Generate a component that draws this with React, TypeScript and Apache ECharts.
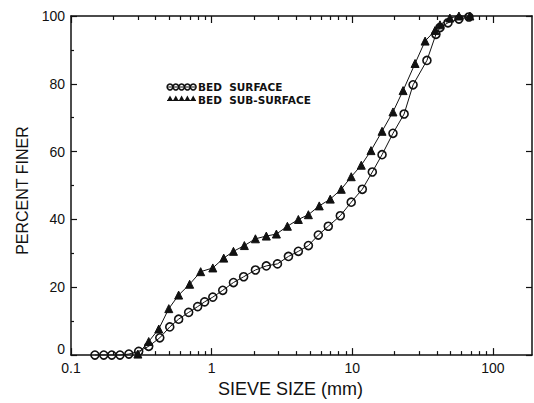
import React, { useEffect, useRef } from "react";
import * as echarts from "echarts";

const surfaceSize = [0.148, 0.171, 0.195, 0.223, 0.258, 0.303, 0.357, 0.428, 0.504, 0.583, 0.687, 0.796, 0.892, 1.02, 1.2, 1.43, 1.69, 2.05, 2.45, 2.94, 3.52, 4.14, 4.88, 5.74, 6.76, 8.23, 9.84, 11.8, 13.9, 16.3, 19.5, 23.4, 27.1, 34.0, 39.4, 42.1, 48.0, 57.4, 67.6];
const surfaceFiner = [0, 0, 0, 0, 0.3, 1.1, 2.6, 5.1, 8.3, 10.6, 12.6, 14.3, 15.7, 17.1, 19.1, 21.4, 23.1, 25.1, 26.3, 26.9, 29.1, 30.6, 32.3, 35.4, 38.0, 41.1, 45.1, 48.9, 54.0, 59.1, 65.4, 71.1, 79.7, 86.9, 94.6, 96.6, 98.0, 99.1, 99.7];

const subSize = [0.299, 0.357, 0.421, 0.496, 0.583, 0.698, 0.836, 1.02, 1.22, 1.43, 1.71, 2.05, 2.45, 2.89, 3.46, 4.14, 4.88, 5.83, 6.98, 8.36, 9.84, 11.6, 13.6, 16.3, 19.5, 23.0, 28.0, 33.0, 38.8, 42.1, 49.5, 57.4, 68.7];
const subFiner = [0.3, 4.0, 7.7, 13.7, 17.7, 20.9, 24.6, 25.7, 28.6, 30.6, 32.3, 34.3, 35.1, 35.7, 38.0, 40.0, 41.4, 44.0, 46.0, 48.9, 52.6, 56.0, 60.3, 66.0, 71.7, 78.0, 86.0, 92.6, 95.7, 97.4, 99.4, 100, 100];

const xMajor = [0.1, 1, 10, 100];
const xMinor = [0.2, 0.3, 0.4, 0.5, 0.6, 0.7, 0.8, 0.9, 2, 3, 4, 5, 6, 7, 8, 9, 20, 30, 40, 50, 60, 70, 80, 90];
const xLabels = ["0.1", "1", "10", "100"];

const legendNames = ["BED  SURFACE", "BED  SUB-SURFACE"];

const FONT = "Liberation Sans";
const LFONT = "DejaVu Sans";

export default function App() {
  const ref = useRef<HTMLDivElement>(null);
  useEffect(() => {
    if (!ref.current) return;
    const chart = echarts.init(ref.current, null, { renderer: "svg" });
    const black = "#111";
    const baseX = {
      type: "log" as const,
      logBase: 10,
      min: 0.1,
      max: 190,
      splitLine: { show: false },
    };
    const legendSyms: any[] = [];
    for (let i = 0; i < 5; i++) {
      legendSyms.push({
        type: "circle",
        shape: { cx: 170 + i * 5.8, cy: 87, r: 2.9 },
        style: { fill: "none", stroke: black, lineWidth: 1.5 },
      });
      legendSyms.push({
        type: "polygon",
        shape: {
          points: [
            [167 + i * 5.8, 101],
            [173 + i * 5.8, 101],
            [170 + i * 5.8, 95.5],
          ],
        },
        style: { fill: black },
      });
    }
    legendSyms.push({ type: "line", shape: { x1: 167, y1: 87, x2: 196, y2: 87 }, style: { stroke: black, lineWidth: 1 } });
    legendSyms.push({ type: "line", shape: { x1: 167, y1: 100.5, x2: 196, y2: 100.5 }, style: { stroke: black, lineWidth: 1 } });
    legendSyms.push({
      type: "text",
      x: 198,
      y: 86.5,
      style: { text: legendNames[0], font: `bold 10.5px '${LFONT}'`, fill: black, verticalAlign: "middle", lineHeight: 11 },
    });
    legendSyms.push({
      type: "text",
      x: 198,
      y: 99.5,
      style: { text: legendNames[1], font: `bold 10.5px '${LFONT}'`, fill: black, verticalAlign: "middle", lineHeight: 11 },
    });

    chart.setOption({
      animation: false,
      backgroundColor: "#fff",
      grid: { left: 71, right: 2, top: 16, bottom: 37 },
      xAxis: [
        {
          ...baseX,
          position: "bottom",
          name: "SIEVE SIZE (mm)",
          nameLocation: "middle",
          nameGap: 15,
          nameTextStyle: { fontFamily: FONT, fontSize: 18, color: black, padding: [0, 22, 0, 0] },
          axisLine: { show: true, lineStyle: { color: black, width: 1.5 } },
          axisTick: { show: true, inside: true, length: 7, customValues: xMajor, lineStyle: { color: black, width: 1.2 } },
          axisLabel: {
            show: true,
            customValues: xMajor,
            formatter: (v: number) => xLabels[xMajor.findIndex((m) => Math.abs(m - v) / m < 1e-6)] ?? "",
            fontFamily: FONT,
            fontSize: 14,
            color: black,
            margin: 6,
          },
        },
        {
          ...baseX,
          position: "bottom",
          axisLine: { show: false },
          axisTick: { show: true, inside: true, length: 4, customValues: xMinor, lineStyle: { color: black, width: 1.2 } },
          axisLabel: { show: false },
        },
        {
          ...baseX,
          position: "top",
          axisLine: { show: true, lineStyle: { color: black, width: 1.5 } },
          axisTick: { show: true, inside: true, length: 7, customValues: xMajor, lineStyle: { color: black, width: 1.2 } },
          axisLabel: { show: false },
        },
        {
          ...baseX,
          position: "top",
          axisLine: { show: false },
          axisTick: { show: true, inside: true, length: 4, customValues: xMinor, lineStyle: { color: black, width: 1.2 } },
          axisLabel: { show: false },
        },
      ],
      yAxis: [
        {
          type: "value",
          min: 0,
          max: 100,
          interval: 20,
          position: "left",
          name: "PERCENT FINER",
          nameLocation: "middle",
          nameGap: 38,
          nameTextStyle: { fontFamily: FONT, fontSize: 16, color: black, padding: [0, 10, 0, 0] },
          axisLine: { show: true, lineStyle: { color: black, width: 1.5 } },
          axisTick: { show: true, inside: true, length: 6, lineStyle: { color: black, width: 1.2 } },
          minorTick: { show: true, splitNumber: 2, length: 3, lineStyle: { color: black, width: 1.2 } },
          axisLabel: {
            fontFamily: FONT,
            fontSize: 14,
            color: black,
            margin: 6,
            formatter: (v: number) => (v === 0 ? "{z|0}" : String(v)),
            rich: { z: { fontFamily: FONT, fontSize: 14, color: black, padding: [0, 0, 12, 0] } },
          },
          splitLine: { show: false },
        },
        {
          type: "value",
          min: 0,
          max: 100,
          interval: 20,
          position: "right",
          axisLine: { show: true, lineStyle: { color: black, width: 1.5 } },
          axisTick: { show: true, inside: true, length: 6, lineStyle: { color: black, width: 1.2 } },
          axisLabel: { show: false },
          splitLine: { show: false },
        },
      ],
      graphic: legendSyms,
      series: [
        {
          name: legendNames[0],
          type: "line",
          xAxisIndex: 0,
          yAxisIndex: 0,
          data: surfaceSize.map((x, i) => [x, surfaceFiner[i]]),
          symbol: "circle",
          symbolSize: 8,
          lineStyle: { color: black, width: 1 },
          itemStyle: { color: "rgba(255,255,255,0)", borderColor: black, borderWidth: 1.6 },
        },
        {
          name: legendNames[1],
          type: "line",
          xAxisIndex: 0,
          yAxisIndex: 0,
          data: subSize.map((x, i) => [x, subFiner[i]]),
          symbol: "triangle",
          symbolSize: 8,
          lineStyle: { color: black, width: 1 },
          itemStyle: { color: black, borderColor: black, borderWidth: 1 },
        },
      ],
    });
    return () => chart.dispose();
  }, []);
  return <div ref={ref} style={{ width: 534, height: 403, position: "absolute", left: 0, top: 0 }} />;
}
